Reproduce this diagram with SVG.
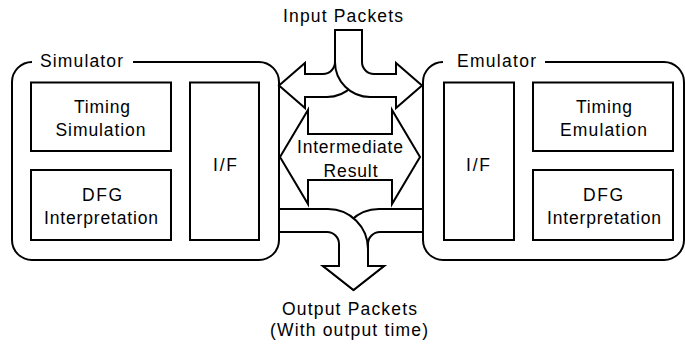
<svg xmlns="http://www.w3.org/2000/svg" width="685" height="347" viewBox="0 0 685 347">
  <style>
    .frame { fill: none; stroke: #000; stroke-width: 2; }
    .box { fill: #fff; stroke: #000; stroke-width: 2; }
    .arrow { fill: #fff; stroke: #000; stroke-width: 2; stroke-linejoin: miter; }
    text { font-family: "Liberation Sans", Arial, sans-serif; font-size: 17.5px; fill: #000; }
    .c { text-anchor: middle; }
  </style>
  <rect width="685" height="347" fill="#fff"/>

  <!-- Simulator container with a gap in the top border for its label -->
  <g id="simulator">
    <path class="frame" d="M133,62 H259 A20,20 0 0 1 279,82 V240 A20,20 0 0 1 259,260 H32 A20,20 0 0 1 12,240 V82 A20,20 0 0 1 32,62"/>
    <text x="40" y="66.5" textLength="83" lengthAdjust="spacing">Simulator</text>
  </g>
  <g id="sim-timing">
    <rect class="box" x="31" y="82.5" width="140" height="68.5"/>
    <text class="c" x="102" y="112.5" textLength="56" lengthAdjust="spacing">Timing</text>
    <text class="c" x="100.5" y="135.5" textLength="90" lengthAdjust="spacing">Simulation</text>
  </g>
  <g id="sim-dfg">
    <rect class="box" x="31" y="170" width="140" height="70"/>
    <text class="c" x="102" y="200.5" textLength="40" lengthAdjust="spacing">DFG</text>
    <text class="c" x="101" y="224" textLength="114" lengthAdjust="spacing">Interpretation</text>
  </g>
  <g id="sim-if">
    <rect class="box" x="190" y="82.5" width="69" height="157.5"/>
    <text class="c" x="225" y="170.5" textLength="24" lengthAdjust="spacing">I/F</text>
  </g>

  <!-- Emulator container -->
  <g id="emulator">
    <path class="frame" d="M545,62 H664 A20,20 0 0 1 684,82 V240 A20,20 0 0 1 664,260 H443 A20,20 0 0 1 423,240 V82 A20,20 0 0 1 443,62"/>
    <text x="457" y="66.5" textLength="79" lengthAdjust="spacing">Emulator</text>
  </g>
  <g id="emu-if">
    <rect class="box" x="444" y="82.5" width="70" height="157.5"/>
    <text class="c" x="478" y="170.5" textLength="24" lengthAdjust="spacing">I/F</text>
  </g>
  <g id="emu-timing">
    <rect class="box" x="533" y="82.5" width="140" height="68.5"/>
    <text class="c" x="604" y="112.5" textLength="56" lengthAdjust="spacing">Timing</text>
    <text class="c" x="603.5" y="135.5" textLength="87" lengthAdjust="spacing">Emulation</text>
  </g>
  <g id="emu-dfg">
    <rect class="box" x="533" y="170" width="140" height="70"/>
    <text class="c" x="603" y="200.5" textLength="40" lengthAdjust="spacing">DFG</text>
    <text class="c" x="604" y="224" textLength="114" lengthAdjust="spacing">Interpretation</text>
  </g>

  <!-- Block arrows between the two sides -->
  <g id="connectors">
    <!-- input packets: stem splitting left and right -->
    <path class="arrow" d="M335,30 V62 A12,12 0 0 1 323,74 H305 V63 L279,85.5 L305,108 V97 H327 A35,35 0 0 0 362,62 V30 Z"/>
    <path class="arrow" d="M362,30 V62 A12,12 0 0 0 374,74 H396 V63 L422,85.5 L396,108 V97 H370 A35,35 0 0 1 335,62 V30 Z"/>
    <!-- intermediate result: double-headed -->
    <path class="arrow" d="M280,157 L308,110 V134 H392 V110 L420,157 L392,204 V180 H308 V204 Z"/>
    <!-- output packets: both sides merging downward -->
    <path class="arrow" d="M423,209 H379 A40,40 0 0 0 339,249 V266 H323 L353.5,290 L384,266 H368 V244 A12,12 0 0 1 380,232 H423 Z"/>
    <path class="arrow" d="M279,209 H328 A40,40 0 0 1 368,249 V266 H384 L353.5,290 L323,266 H339 V244 A12,12 0 0 0 327,232 H279 Z"/>

    <text class="c" x="343" y="22" textLength="120" lengthAdjust="spacing">Input Packets</text>
    <text class="c" x="350" y="153" textLength="106" lengthAdjust="spacing">Intermediate</text>
    <text class="c" x="350.5" y="177" textLength="54" lengthAdjust="spacing">Result</text>
    <text class="c" x="349.5" y="315" textLength="135" lengthAdjust="spacing">Output Packets</text>
    <text class="c" x="349" y="336" textLength="158" lengthAdjust="spacing">(With output time)</text>
  </g>
</svg>
